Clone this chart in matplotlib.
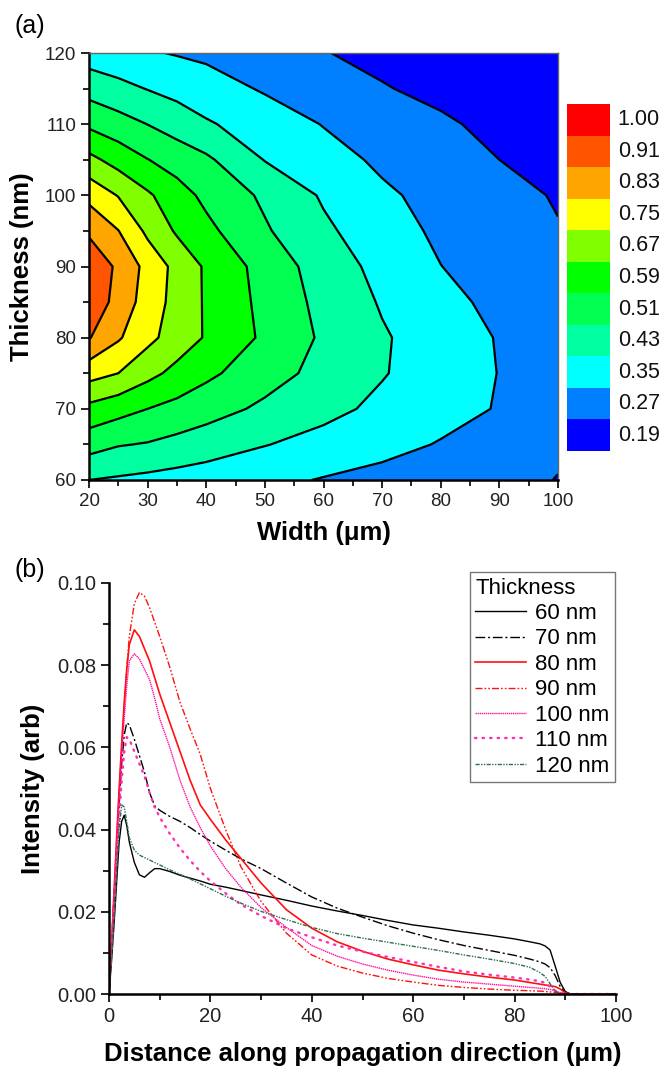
import matplotlib.pyplot as plt
import numpy as np

plt.rcParams['font.family'] = ['Liberation Sans', 'DejaVu Sans']

# ---- (a) normalised intensity vs width / thickness ----
width = [20, 25, 30, 35, 40, 50, 60, 70, 80, 90, 100]
thickness = [60, 65, 70, 75, 80, 85, 90, 95, 100, 105, 110, 115, 120]
intensity = [
    [0.430, 0.420, 0.410, 0.400, 0.390, 0.370, 0.345, 0.325, 0.305, 0.290, 0.268],
    [0.542, 0.515, 0.505, 0.487, 0.469, 0.433, 0.404, 0.375, 0.345, 0.310, 0.280],
    [0.648, 0.619, 0.590, 0.566, 0.542, 0.495, 0.452, 0.413, 0.378, 0.345, 0.300],
    [0.781, 0.750, 0.694, 0.647, 0.607, 0.542, 0.486, 0.435, 0.391, 0.348, 0.300],
    [0.915, 0.839, 0.771, 0.714, 0.663, 0.576, 0.498, 0.438, 0.391, 0.345, 0.305],
    [0.970, 0.881, 0.795, 0.722, 0.661, 0.568, 0.487, 0.423, 0.373, 0.330, 0.300],
    [0.960, 0.898, 0.804, 0.726, 0.659, 0.559, 0.473, 0.406, 0.351, 0.315, 0.290],
    [0.899, 0.832, 0.733, 0.660, 0.610, 0.519, 0.444, 0.386, 0.335, 0.306, 0.274],
    [0.806, 0.746, 0.682, 0.622, 0.572, 0.496, 0.421, 0.362, 0.327, 0.294, 0.264],
    [0.692, 0.639, 0.592, 0.557, 0.524, 0.427, 0.379, 0.337, 0.303, 0.270, 0.250],
    [0.575, 0.542, 0.509, 0.474, 0.439, 0.391, 0.347, 0.315, 0.282, 0.249, 0.220],
    [0.480, 0.453, 0.427, 0.405, 0.383, 0.342, 0.309, 0.275, 0.250, 0.225, 0.200],
    [0.390, 0.375, 0.357, 0.345, 0.335, 0.307, 0.273, 0.250, 0.230, 0.210, 0.195],
]
levels = [0.19, 0.27, 0.35, 0.43, 0.51, 0.59, 0.67, 0.75, 0.83, 0.91, 1.00]
level_colors = ['#0000ff', '#0080ff', '#00ffff', '#00ffa0', '#00ff50', '#00ff00',
                '#80ff00', '#ffff00', '#ffa500', '#ff5500', '#ff0000']

# ---- (b) intensity along propagation ----
distance = [0, 0.5, 1, 1.5, 2, 2.5, 3, 3.5, 4, 5, 6, 7, 8, 9, 10, 12, 14, 16, 18, 20,
            23, 26, 30, 35, 40, 45, 50, 55, 60, 65, 70, 75, 80, 83, 85, 86, 87, 88,
            89, 90, 91, 92, 100]
i60 = [0, 0.008, 0.017, 0.027, 0.037, 0.042, 0.0435, 0.041, 0.037, 0.032, 0.029, 0.0284,
       0.0295, 0.0305, 0.0305, 0.0298, 0.0289, 0.0282, 0.0275, 0.0267, 0.026, 0.0252,
       0.0241, 0.0228, 0.0214, 0.0202, 0.0191, 0.0179, 0.0168, 0.016, 0.0151, 0.0143,
       0.0134, 0.0127, 0.0122, 0.0117, 0.0107, 0.0068, 0.0028, 0.0006, 0, 0, 0]
i70 = [0, 0.01, 0.022, 0.034, 0.046, 0.056, 0.063, 0.066, 0.0655, 0.062, 0.058, 0.054,
       0.049, 0.0458, 0.0447, 0.0432, 0.042, 0.0405, 0.0388, 0.0372, 0.035, 0.0329,
       0.0305, 0.027, 0.0236, 0.0209, 0.0187, 0.0166, 0.0148, 0.0132, 0.0118, 0.0106,
       0.0094, 0.0085, 0.0078, 0.0073, 0.0064, 0.0045, 0.0018, 0.0004, 0, 0, 0]
i80 = [0, 0.012, 0.025, 0.038, 0.05, 0.061, 0.071, 0.079, 0.085, 0.0886, 0.087, 0.084,
       0.081, 0.077, 0.073, 0.066, 0.059, 0.052, 0.046, 0.0425, 0.0375, 0.033, 0.027,
       0.0205, 0.016, 0.0127, 0.0104, 0.0085, 0.0071, 0.0058, 0.0049, 0.0041, 0.0034,
       0.0028, 0.0024, 0.0022, 0.002, 0.0018, 0.0012, 0.0003, 0, 0, 0]
i90 = [0, 0.012, 0.025, 0.037, 0.049, 0.06, 0.07, 0.079, 0.087, 0.095, 0.0977, 0.0968,
       0.094, 0.0905, 0.087, 0.0795, 0.071, 0.0645, 0.0583, 0.05, 0.04, 0.031, 0.0225,
       0.0148, 0.0095, 0.0068, 0.0051, 0.0038, 0.0029, 0.0021, 0.0016, 0.0012, 0.0009,
       0.0008, 0.0007, 0.0006, 0.0005, 0.0004, 0.0002, 0.0001, 0, 0, 0]
i100 = [0, 0.012, 0.024, 0.036, 0.047, 0.058, 0.067, 0.075, 0.081, 0.0828, 0.0815, 0.079,
        0.0765, 0.072, 0.067, 0.06, 0.052, 0.0455, 0.0405, 0.036, 0.0305, 0.026, 0.021,
        0.0162, 0.0118, 0.0092, 0.0073, 0.0058, 0.0046, 0.0036, 0.0029, 0.0024, 0.0019,
        0.0016, 0.0014, 0.0013, 0.0011, 0.0008, 0.0003, 0.0001, 0, 0, 0]
i110 = [0, 0.01, 0.021, 0.032, 0.043, 0.052, 0.059, 0.0625, 0.062, 0.059, 0.056, 0.053,
        0.049, 0.0455, 0.043, 0.039, 0.0355, 0.0325, 0.0298, 0.0275, 0.0245, 0.0218,
        0.019, 0.016, 0.0138, 0.0118, 0.0103, 0.009, 0.0078, 0.0066, 0.0055, 0.0047,
        0.004, 0.0035, 0.0031, 0.0027, 0.0018, 0.0008, 0.0002, 0, 0, 0, 0]
i120 = [0, 0.009, 0.019, 0.03, 0.04, 0.046, 0.0455, 0.042, 0.038, 0.035, 0.0338, 0.0332,
        0.0326, 0.032, 0.0314, 0.0302, 0.0291, 0.028, 0.0268, 0.0256, 0.0238, 0.0221,
        0.0201, 0.0181, 0.0162, 0.0147, 0.0136, 0.0126, 0.0116, 0.0106, 0.0095, 0.0085,
        0.0074, 0.0065, 0.0052, 0.0043, 0.0025, 0.0007, 0.0001, 0, 0, 0, 0]
curve_labels = ['60 nm', '70 nm', '80 nm', '90 nm', '100 nm', '110 nm', '120 nm']

W, H = 671, 1067
fig = plt.figure(figsize=(W / 100, H / 100), dpi=100)


def box(l, t, r, b):
    return [l / W, 1 - b / H, (r - l) / W, (b - t) / H]


def style_ticks(a, size):
    a.tick_params(which='both', direction='out', labelsize=size, width=1.3,
                  color='#111', labelcolor='#222')
    a.tick_params(which='major', length=6, pad=3)
    a.tick_params(which='minor', length=4)


# ---------------- panel (a) ----------------
ax = fig.add_axes(box(89, 53, 558, 480))
X, Y = np.meshgrid(width, thickness)
Z = np.array(intensity)
ax.contourf(X, Y, Z, levels=levels + [1.09], colors=level_colors)
ax.contour(X, Y, Z, levels=levels[1:-1], colors='k', linewidths=1.6)
ax.set_xlim(20, 100)
ax.set_ylim(60, 120)
ax.set_xticks(range(20, 101, 10))
ax.set_xticks(range(25, 100, 10), minor=True)
ax.set_yticks(range(60, 121, 10))
ax.set_yticks(range(65, 120, 10), minor=True)
style_ticks(ax, 13.5)
for s in ['left', 'bottom']:
    ax.spines[s].set_linewidth(1.8)
for s in ['top', 'right']:
    ax.spines[s].set_linewidth(1)
    ax.spines[s].set_color('#666')
ax.set_xlabel('Width (μm)', fontsize=18.5, fontweight='bold', labelpad=8)
ax.set_ylabel('Thickness (nm)', fontsize=18.5, fontweight='bold', labelpad=8)
fig.text(14 / W, 1 - 33 / H, '(a)', fontsize=18)

# colour legend boxes
cax = fig.add_axes(box(567, 104, 610, 451))
n = len(levels)
cax.bar([0] * n, [1] * n, bottom=range(n), width=1, color=level_colors, align='edge')
cax.set_xlim(0, 1)
cax.set_ylim(0, n)
cax.axis('off')
for k, v in enumerate(levels):
    cax.text(1.18, k + 0.5, '%.2f' % v, va='center', ha='left', fontsize=15.5,
             color='#111')

# ---------------- panel (b) ----------------
bx = fig.add_axes(box(109, 583, 616, 994))
styles = [
    dict(color='black', ls='-', lw=1.0),
    dict(color='black', ls=(0, (7, 2, 1.5, 2)), lw=1.0),
    dict(color='#ff1010', ls='-', lw=1.2),
    dict(color='#ff1010', ls=(0, (5, 1.5, 1.2, 1.5, 1.2, 1.5)), lw=1.0),
    dict(color='#ff10a0', ls=(0, (1, 0.5)), lw=1.0),
    dict(color='#ff30b0', ls=(0, (0.6, 2.6)), lw=1.7, dash_capstyle='round'),
    dict(color='#2e7050', ls=(0, (3, 1, 1, 1, 1, 1)), lw=1.0),
]
for yv, lab, st in zip([i60, i70, i80, i90, i100, i110, i120], curve_labels, styles):
    bx.plot(distance, yv, label=lab, **st)
bx.set_xlim(0, 100)
bx.set_ylim(0, 0.1)
bx.set_xticks(range(0, 101, 20))
bx.set_xticks(range(10, 100, 20), minor=True)
bx.set_yticks(np.arange(0, 0.101, 0.02))
bx.set_yticks(np.arange(0.01, 0.1, 0.02), minor=True)
bx.set_yticklabels(['0.00', '0.02', '0.04', '0.06', '0.08', '0.10'])
style_ticks(bx, 14.5)
bx.spines['top'].set_visible(False)
bx.spines['right'].set_visible(False)
for s in ['left', 'bottom']:
    bx.spines[s].set_linewidth(1.8)
bx.set_xlabel('Distance along propagation direction (μm)', fontsize=18.5,
              fontweight='bold', labelpad=12)
bx.set_ylabel('Intensity (arb)', fontsize=18.5, fontweight='bold', labelpad=9)
fig.text(14 / W, 1 - 577 / H, '(b)', fontsize=18)

leg = bx.legend(title='Thickness', loc='upper right', bbox_to_anchor=(615 / W, 1 - 572 / H),
                bbox_transform=fig.transFigure, fontsize=16, title_fontsize=16,
                handlelength=2.3, labelspacing=0.2, borderpad=0.25, handletextpad=0.4,
                borderaxespad=0, fancybox=False, framealpha=1, edgecolor='#777',
                alignment='left')
leg.get_frame().set_linewidth(1)

fig.savefig('out.png', dpi=100)
